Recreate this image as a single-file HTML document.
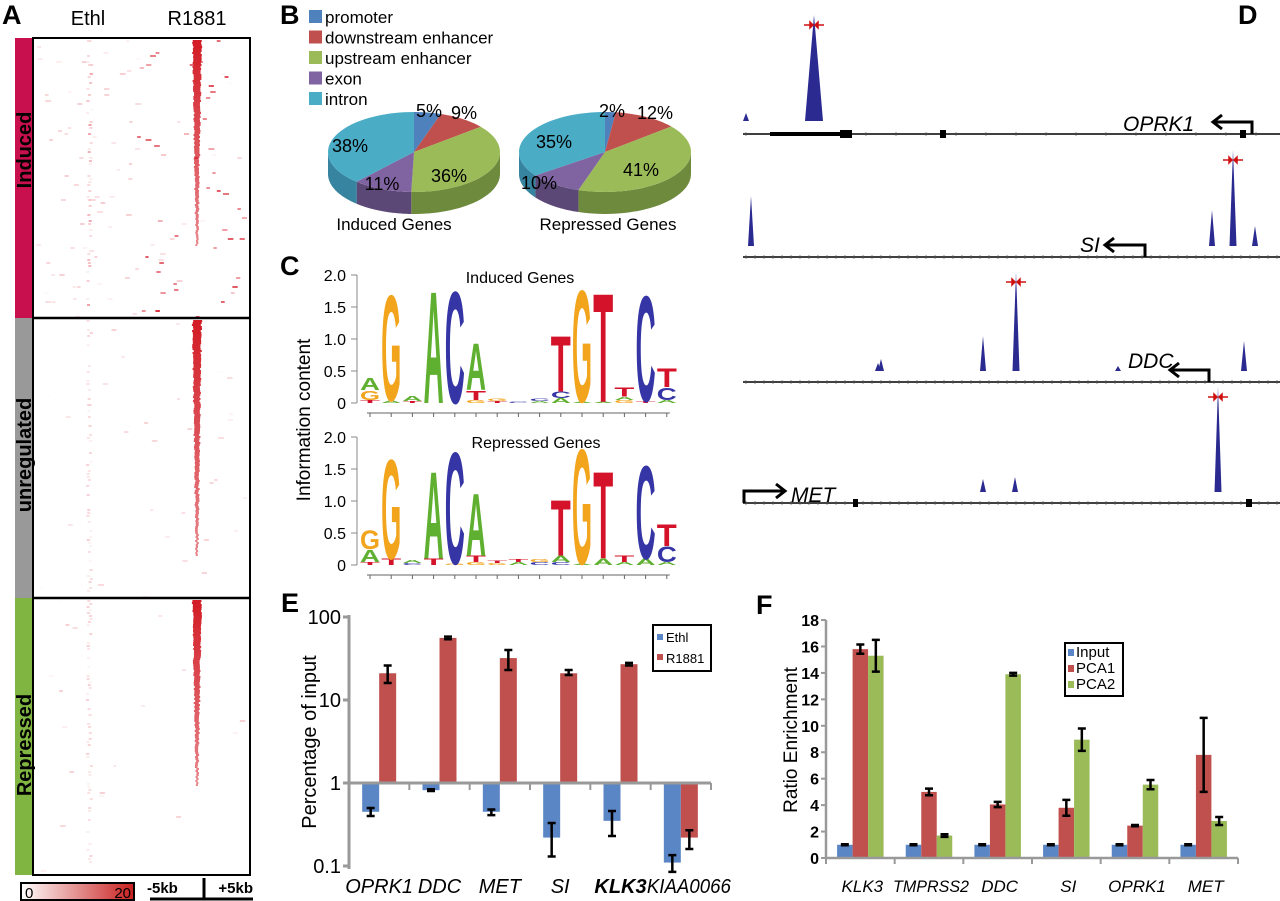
<!DOCTYPE html>
<html><head><meta charset="utf-8"><style>
html,body{margin:0;padding:0;background:#fff;}
svg{display:block;font-family:"Liberation Sans",Arial,sans-serif;}
</style></head><body>
<svg id="fig" width="1280" height="901" viewBox="0 0 1280 901" xmlns="http://www.w3.org/2000/svg">
<defs>
<linearGradient id="cbar" x1="0" x2="1" y1="0" y2="0"><stop offset="0" stop-color="#fff"/><stop offset="1" stop-color="#c8201e"/></linearGradient>
</defs>
<g id="panelA">
<text x="2" y="24" font-size="27" font-weight="bold">A</text>
<text x="88" y="25" font-size="20" text-anchor="middle">Ethl</text>
<text x="197" y="25" font-size="20" text-anchor="middle">R1881</text>
<rect x="15" y="38" width="18" height="280" fill="#c8104f"/>
<rect x="15" y="318" width="18" height="280" fill="#999"/>
<rect x="15" y="598" width="18" height="277" fill="#7fb540"/>
<text transform="translate(31,150) rotate(-90)" font-size="20" font-weight="bold" text-anchor="middle">Induced</text>
<text transform="translate(31,455) rotate(-90)" font-size="20" font-weight="bold" text-anchor="middle">unregulated</text>
<text transform="translate(31,745) rotate(-90)" font-size="20" font-weight="bold" text-anchor="middle">Repressed</text>
<g id="heat"></g>
<rect x="33" y="38" width="217" height="837" fill="none" stroke="#000" stroke-width="2"/>
<line x1="33" y1="318" x2="250" y2="318" stroke="#000" stroke-width="2.5"/>
<line x1="33" y1="598" x2="250" y2="598" stroke="#000" stroke-width="2.5"/>
<rect x="21" y="883" width="113" height="17" fill="url(#cbar)" stroke="#000" stroke-width="2"/>
<text x="25" y="898" font-size="15">0</text>
<text x="131" y="898" font-size="15" text-anchor="end">20</text>
<text x="147" y="893" font-size="15" font-weight="bold">-5kb</text>
<text x="253" y="893" font-size="15" font-weight="bold" text-anchor="end">+5kb</text>
<line x1="150" y1="899" x2="253" y2="899" stroke="#000" stroke-width="3"/>
<line x1="204" y1="878" x2="204" y2="899" stroke="#000" stroke-width="3"/>
</g>

<g id="panelB">
<text x="280" y="24" font-size="27" font-weight="bold">B</text>
<g id="pieLegend"></g>
<g id="pies"></g>
<text x="394" y="230" font-size="17" text-anchor="middle">Induced Genes</text>
<text x="608" y="230" font-size="17" text-anchor="middle">Repressed Genes</text>
</g>

<g id="panelC">
<text x="280" y="275" font-size="27" font-weight="bold">C</text>
<text transform="translate(310,420) rotate(-90)" font-size="19" text-anchor="middle">Information content</text>
<text x="520" y="283" font-size="16" text-anchor="middle">Induced Genes</text>
<text x="536" y="448" font-size="16" text-anchor="middle">Repressed Genes</text>
<g id="logos"></g>
</g>

<g id="panelD">
<text x="1238" y="24" font-size="27" font-weight="bold">D</text>
<g id="tracks"></g>
</g>

<g id="panelE">
<text x="281" y="612" font-size="27" font-weight="bold">E</text>
<text transform="translate(316,742) rotate(-90)" font-size="20" text-anchor="middle">Percentage of input</text>
<g id="chartE"></g>
</g>

<g id="panelF">
<text x="756" y="614" font-size="27" font-weight="bold">F</text>
<text transform="translate(797,740) rotate(-90)" font-size="19" text-anchor="middle">Ratio Enrichment</text>
<g id="chartF"></g>
</g>
</svg>
<script>
const NS="http://www.w3.org/2000/svg";
function mk(tag,attrs,parent,txt){const e=document.createElementNS(NS,tag);for(const k in attrs)e.setAttribute(k,attrs[k]);if(txt!==undefined)e.textContent=txt;parent.appendChild(e);return e;}

// ---------- Panel B data ----------
const pieCategories=["promoter","downstream enhancer","upstream enhancer","exon","intron"];
const pieInduced=[5,9,36,11,38];
const pieRepressed=[2,12,41,10,35];
const pieColors=["#4f81bd","#c0504d","#9bbb59","#8064a2","#4bacc6"];
const pieSide=["#3a6191","#8e3a38","#6e8a3d","#5c4876","#3784a0"];

// ---------- Panel E data ----------
const eCategories=["OPRK1","DDC","MET","SI","KLK3","KIAA0066"];
const eEthl=[0.45,0.82,0.45,0.22,0.35,0.11];
const eEthlLo=[0.40,0.80,0.41,0.13,0.23,0.085];
const eEthlHi=[0.50,0.84,0.48,0.33,0.46,0.135];
const eR1881=[21,56,32,21,27,0.22];
const eR1881Lo=[16,54,23,20,26,0.16];
const eR1881Hi=[26,58,40,23,28,0.27];
const eTicks=[0.1,1,10,100];
const eTickLabels=["0.1","1","10","100"];

// ---------- Panel F data ----------
const fCategories=["KLK3","TMPRSS2","DDC","SI","OPRK1","MET"];
const fInput=[1,1,1,1,1,1];
const fPCA1=[15.8,5.0,4.05,3.8,2.45,7.8];
const fPCA1Err=[0.35,0.25,0.2,0.6,0.05,2.8];
const fPCA2=[15.3,1.7,13.9,8.95,5.55,2.8];
const fPCA2Err=[1.2,0.1,0.1,0.85,0.35,0.3];
const fTicks=[0,2,4,6,8,10,12,14,16,18];

// ---------- Panel C data (letter stacks bottom->top, heights in bits) ----------
const motifInduced=[
 [["T",.05],["G",.15],["A",.2]],[["A",.04],["G",1.7]],[["T",.03],["A",.08]],[["A",1.8]],[["C",1.8]],
 [["G",.05],["T",.15],["A",.75]],[["T",.03],["G",.04]],[["C",.02]],[["A",.03],["C",.04]],
 [["A",.08],["C",.1],["T",.9]],[["A",.02],["G",1.8]],[["A",.02],["T",1.75]],[["G",.05],["A",.05],["T",.15]],[["T",.03],["C",1.7]],
 [["A",.05],["C",.2],["T",.3]]];
const motifRepressed=[
 [["T",.05],["A",.2],["G",.3]],[["T",.1],["G",1.6]],[["C",.03],["A",.05]],[["T",.1],["A",1.4]],[["G",.02],["C",1.8]],
 [["G",.05],["T",.1],["A",1.0]],[["G",.03],["T",.04]],[["A",.05],["T",.05]],[["C",.05],["G",.05]],
 [["C",.05],["A",.1],["T",.9]],[["A",.02],["G",1.85]],[["A",.1],["T",1.4]],[["A",.05],["T",.1]],[["A",.1],["C",1.5]],
 [["A",.05],["C",.25],["T",.35]]];
const letterColors={A:"#5fb030",C:"#3535a5",G:"#f2a41c",T:"#d4122a"};
const motifTicks=[0,0.5,1.0,1.5,2.0];
const motifTickLabels=["0","0.5","1.0","1.5","2.0"];

// ---------- Panel D data ----------
const trackGenes=["OPRK1","SI","DDC","MET"];
const trackPeaks=[
 [[746,8],[814,106]],
 [[751,50],[1212,36],[1233,96],[1255,20]],
 [[878,8],[881,12],[983,35],[1016,99],[1118,5],[1244,30]],
 [[983,13],[1015,15],[1218,105]]];
const trackSummit=[814,1233,1016,1218];

// ===== Heatmap texture (decorative) =====
(function(){
 const g=document.getElementById('heat');
 let s=12345;function rnd(){s=(s*1103515245+12345)%2147483648;return s/2147483648;}
 const segs=[[40,318,245],[320,598,555],[600,874,785]];
 segs.forEach((sg,i)=>{
  const [y0,y1,yEnd]=sg;
  for(let y=y0;y<yEnd;y+=2){
   const f=1-(y-y0)/(yEnd-y0);
   const w=2+7*f;
   const op=0.5+0.45*f;
   const r=mk('rect',{x:197-w/2+(rnd()-0.5)*1.5,y:y,width:w,height:2,fill:"#d0101a",opacity:op.toFixed(2)},g);
   
   
  }
  for(let y=y0;y<y1;y+=3){
   if(rnd()<0.5){mk('rect',{x:86+rnd()*4,y:y,width:3,height:2,fill:"#e03040",opacity:(i==0?0.4:0.18)*rnd()+0.05},g);}
   const nd=i==0?3:1;
   for(let k=0;k<nd;k++){ if(rnd()<(i==0?0.45:0.3)){const x=36+rnd()*210;const near=Math.abs(x-197)<60;
     mk('rect',{x:x,y:y,width:3+rnd()*3,height:2,fill:"#d82030",opacity:((i==0&&near)?0.8:0.22)*rnd()},g);}}
  }
 });
})();

// ===== Panel B =====
(function(){
 const lg=document.getElementById('pieLegend');
 pieCategories.forEach((c,i)=>{
  const y=10+i*20.5;
  const sw=mk('rect',{x:309,y:y,width:13,height:13,fill:pieColors[i]},lg);
  
  
  const t=mk('text',{x:325,y:y+13,'font-size':17},lg,c);
  
  
 });
 const pg=document.getElementById('pies');
 function pie(vals,cx,cy,rx,ry,dep,name,labelPos){
  const g=mk('g',{},pg);
  
  
  const tot=vals.reduce((a,b)=>a+b,0);
  const P=(t,dy)=>[cx+rx*Math.sin(t),cy-ry*Math.cos(t)+(dy||0)];
  let a=0;const ranges=[];
  vals.forEach(v=>{const b=a+v/tot*2*Math.PI;ranges.push([a,b]);a=b;});
  ranges.forEach((r,i)=>{
   const s=Math.max(r[0],Math.PI/2),e=Math.min(r[1],3*Math.PI/2);
   if(e>s){
    const pts=[];for(let k=0;k<=30;k++){pts.push(P(s+(e-s)*k/30));}
    for(let k=30;k>=0;k--){pts.push(P(s+(e-s)*k/30,dep));}
    const side=mk('polygon',{points:pts.map(p=>p.join(',')).join(' '),fill:pieSide[i]},g);
    
    
   }
  });
  ranges.forEach((r,i)=>{
   const pts=[[cx,cy]];for(let k=0;k<=40;k++){pts.push(P(r[0]+(r[1]-r[0])*k/40));}
   const sl=mk('polygon',{points:pts.map(p=>p.join(',')).join(' '),fill:pieColors[i]},g);
   
   
  });
  vals.forEach((v,i)=>{
   const t=mk('text',{x:labelPos[i][0],y:labelPos[i][1],'font-size':18,'text-anchor':'middle'},g,v+"%");
   
   
  });
 }
 pie(pieInduced,414,152,86,40,22,'induced-genes-pie',[[429,117],[464,119],[449,182],[382,190],[350,152]]);
 pie(pieRepressed,605,152,86,40,22,'repressed-genes-pie',[[612,117],[655,119],[641,176],[539,189],[554,148]]);
})();

// ===== Panel C =====
(function(){
 const g=document.getElementById('logos');
 const xs0=370,dx=21.2,unit=64;
 function logo(data,y0,name){
  const lg=mk('g',{},g);
  
  
  mk('line',{x1:357,y1:y0-2*unit,x2:357,y2:y0,stroke:"#888","stroke-width":1},lg);
  motifTicks.forEach((t,i)=>{
   const y=y0-t*unit;
   mk('line',{x1:351,y1:y,x2:357,y2:y,stroke:"#888"},lg);
   const tl=mk('text',{x:346,y:y+6,'font-size':16,'text-anchor':'end'},lg,motifTickLabels[i]);
   
   
  });
  mk('line',{x1:xs0-3,y1:y0+10,x2:xs0+14*dx+3,y2:y0+10,stroke:"#666"},lg);
  data.forEach((stack,i)=>{
   const x=xs0+i*dx;
   mk('line',{x1:x,y1:y0+10,x2:x,y2:y0+14,stroke:"#666"},lg);
   let yb=y0;
   stack.forEach(([L,h])=>{
    const hp=h*unit;const fs=28;
    const sy=hp/(0.72*fs);
    const t=mk('text',{x:0,y:0,'font-size':fs,'font-weight':'bold','text-anchor':'middle',textLength:20,lengthAdjust:'spacingAndGlyphs',fill:letterColors[L],transform:`translate(${x},${yb}) scale(1,${sy})`},lg,L);
    
    
    yb-=hp;
   });
  });
 }
 logo(motifInduced,403,'induced-motif-logo');
 logo(motifRepressed,565,'repressed-motif-logo');
})();

// ===== Panel D =====
(function(){
 const g=document.getElementById('tracks');
 const lineY=[134,257,382,503];
 const labelPos=[[1123,131],[1080,252],[1128,368],[791,502]];
 const arrows=[[1252,1213,-1],[1145,1105,-1],[1209,1170,-1],[744,785,1]];
 trackGenes.forEach((gn,i)=>{
  const tg=mk('g',{},g);
  
  
  const y=lineY[i];
  mk('line',{x1:743,y1:y,x2:1280,y2:y,stroke:"#000","stroke-width":1.5},tg);
  for(let x=746;x<1280;x+=(i==0?30:9)){mk('line',{x1:x,y1:y-2,x2:x,y2:y+2,stroke:"#555","stroke-width":0.7},tg);}
  if(i==0){mk('rect',{x:770,y:132,width:72,height:4,fill:"#000"},tg);mk('rect',{x:840,y:130,width:12,height:8,fill:"#000"},tg);mk('rect',{x:940,y:130,width:6,height:8,fill:"#000"},tg);mk('rect',{x:1240,y:130,width:6,height:8,fill:"#000"},tg);}
  if(i==3){mk('rect',{x:853,y:499,width:5,height:8,fill:"#000"},tg);mk('rect',{x:1246,y:499,width:6,height:8,fill:"#000"},tg);}
  const base=y-(i==0?13:11);
  trackPeaks[i].forEach(([px,h])=>{
   const w=(i==0&&h>50)?9:(h>50?3.5:3);
   const p=mk('polygon',{points:`${px-w},${base} ${px},${base-h} ${px+w},${base}`,fill:"#2a2a90"},tg);
   
   
  });
  const sx=trackSummit[i];const maxh=Math.max(...trackPeaks[i].map(p=>p[1]));const ay=base-maxh+10;
  mk('path',{d:`M${sx-10},${ay}h6 M${sx-4},${ay-3}l3,3l-3,3z M${sx+10},${ay}h-6 M${sx+4},${ay-3}l-3,3l3,3z`,stroke:"#d01010",fill:"#d01010","stroke-width":1.5},tg);
  const t=mk('text',{x:labelPos[i][0],y:labelPos[i][1],'font-size':21,'font-style':'italic'},tg,gn);
  
  
  const [ax,ex,dir]=arrows[i];
  const tipY=y-12;
  const ar=mk('path',{d:`M${ax},${y} V${tipY} H${ex} M${ex-dir*9},${tipY-7} L${ex},${tipY} L${ex-dir*9},${tipY+7}`,stroke:"#000","stroke-width":3,fill:"none"},tg);
  
  
 });
})();

// ===== Panel E =====
(function(){
 const g=document.getElementById('chartE');
 const x0=349,x1=711,yBase=783,dec=83;
 const yE=v=>yBase-Math.log10(v)*dec;
 const gw=(x1-x0)/eCategories.length;
 const bw=17;
 mk('line',{x1:x0,y1:yE(100)-2,x2:x0,y2:yE(0.1)+3,stroke:"#999","stroke-width":3},g);
 eTicks.forEach((t,i)=>{
  const y=yE(t);
  mk('line',{x1:x0-6,y1:y,x2:x0,y2:y,stroke:"#999","stroke-width":3},g);
  const tl=mk('text',{x:x0-8,y:y+7,'font-size':20,'text-anchor':'end'},g,eTickLabels[i]);
  
  
 });
 function bar(v,lo,hi,x,col,nm){
  const y=yE(v);
  const r=mk('rect',{x:x,y:Math.min(y,yBase),width:bw,height:Math.abs(yBase-y),fill:col},g);
  
  
  const cx=x+bw/2;
  mk('path',{d:`M${cx},${yE(lo)}V${yE(hi)}M${cx-4},${yE(lo)}h8M${cx-4},${yE(hi)}h8`,stroke:"#000","stroke-width":2.5},g);
 }
 eCategories.forEach((c,i)=>{
  const cx=x0+gw*(i+0.5);
  bar(eEthl[i],eEthlLo[i],eEthlHi[i],cx-bw,"#5b86c5",'bar-ethl-'+c.toLowerCase());
  bar(eR1881[i],eR1881Lo[i],eR1881Hi[i],cx,"#c0504d",'bar-r1881-'+c.toLowerCase());
  const attrs={x:cx,y:893,'font-size':20,'font-style':'italic','text-anchor':'middle'};
  if(c=="KIAA0066"){attrs.textLength=84;attrs.lengthAdjust='spacingAndGlyphs';attrs.x=cx+8;}
  const t=mk('text',attrs,g,c);
  if(c=="KLK3")t.setAttribute('font-weight','bold');
  
  
 });
 mk('line',{x1:x0,y1:yBase,x2:x1,y2:yBase,stroke:"#999","stroke-width":3},g);
 for(let i=1;i<=eCategories.length;i++){const x=x0+gw*i;mk('line',{x1:x,y1:yBase,x2:x,y2:yBase+7,stroke:"#999","stroke-width":2},g);}
 const lb=mk('g',{},g);
 
 
 mk('rect',{x:653,y:625,width:58,height:46,fill:"#fff",stroke:"#000","stroke-width":2},lb);
 mk('rect',{x:657,y:634,width:6,height:6,fill:"#5b86c5"},lb);
 mk('text',{x:666,y:642,'font-size':13},lb,"Ethl");
 mk('rect',{x:657,y:654,width:6,height:6,fill:"#c0504d"},lb);
 mk('text',{x:666,y:663,'font-size':13},lb,"R1881");
})();

// ===== Panel F =====
(function(){
 const g=document.getElementById('chartF');
 const x0=826,x1=1238,y0=858,unit=13.22;
 const yF=v=>y0-v*unit;
 const gw=(x1-x0)/fCategories.length;
 const bw=15.5;
 mk('line',{x1:x0,y1:yF(18),x2:x0,y2:y0,stroke:"#999","stroke-width":2.5},g);
 fTicks.forEach(t=>{
  const y=yF(t);
  mk('line',{x1:x0-5,y1:y,x2:x0,y2:y,stroke:"#999","stroke-width":2},g);
  const tl=mk('text',{x:x0-7,y:y+6,'font-size':16,'font-weight':'bold','text-anchor':'end'},g,String(t));
  
  
 });
 function bar(v,err,x,col,nm){
  const y=yF(v);
  const r=mk('rect',{x:x,y:y,width:bw,height:y0-y,fill:col},g);
  
  
  const cx=x+bw/2,e=Math.max(err,0.04);
  mk('path',{d:`M${cx},${yF(v-e)}V${yF(v+e)}M${cx-4},${yF(v-e)}h8M${cx-4},${yF(v+e)}h8`,stroke:"#000","stroke-width":2.5},g);
 }
 fCategories.forEach((c,i)=>{
  const cx=x0+gw*(i+0.5);
  bar(fInput[i],0.02,cx-bw*1.5,"#5b86c5",'bar-input-'+c.toLowerCase());
  bar(fPCA1[i],fPCA1Err[i],cx-bw*0.5,"#c0504d",'bar-pca1-'+c.toLowerCase());
  bar(fPCA2[i],fPCA2Err[i],cx+bw*0.5,"#9bbb59",'bar-pca2-'+c.toLowerCase());
  const t=mk('text',{x:cx+2,y:892,'font-size':17,'font-style':'italic','text-anchor':'middle'},g,c);
  if(c=="TMPRSS2"){t.setAttribute('textLength','76');t.setAttribute('lengthAdjust','spacingAndGlyphs');}
  
  
 });
 mk('line',{x1:x0,y1:y0,x2:x1,y2:y0,stroke:"#999","stroke-width":2.5},g);
 for(let i=0;i<=fCategories.length;i++){const x=x0+gw*i;mk('line',{x1:x,y1:y0,x2:x,y2:y0+6,stroke:"#999","stroke-width":2},g);}
 const lb=mk('g',{},g);
 
 
 mk('rect',{x:1065,y:643,width:58,height:53,fill:"#fff",stroke:"#000","stroke-width":2},lb);
 [["Input","#5b86c5"],["PCA1","#c0504d"],["PCA2","#9bbb59"]].forEach(([n,c],i)=>{
  mk('rect',{x:1068,y:649+i*16,width:6,height:7,fill:c},lb);
  mk('text',{x:1076,y:657+i*16,'font-size':15},lb,n);
 });
})();
</script>
</body></html>
